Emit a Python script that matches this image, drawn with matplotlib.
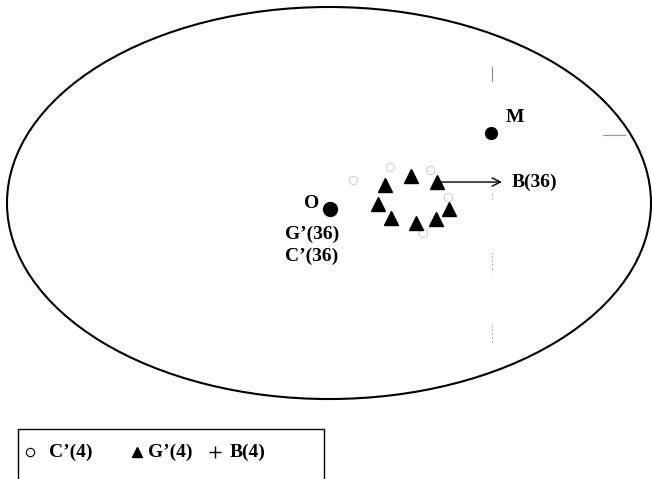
import numpy as np
import matplotlib
matplotlib.use("Agg")
import matplotlib.pyplot as plt
from matplotlib.patches import Ellipse, Rectangle

# positions on the sky map, in units of the map's half-width / half-height
origin = (0.003, -0.031)
m_point = (0.503, 0.357)
g4_x = [0.174, 0.255, 0.335, 0.152, 0.373, 0.193, 0.270, 0.332]
g4_y = [0.092, 0.138, 0.107, -0.005, -0.031, -0.077, -0.102, -0.082]
c4_x = [0.074, 0.189, 0.314, 0.369, 0.292]
c4_y = [0.117, 0.184, 0.168, 0.031, -0.153]
b36_start = (0.335, 0.107)
b36_end = (0.537, 0.107)

legend_labels = ["C\u2019(4)", "G\u2019(4)", "B(4)"]

plt.rcParams['font.family'] = ['Liberation Serif', 'DejaVu Serif']

fig = plt.figure(figsize=(6.52, 4.79), dpi=100)
ax = fig.add_axes([0, 0, 1, 1])
ax.set_xlim(-1.0217, 1.0031)
ax.set_ylim(-1.408, 1.0357)
ax.axis('off')

# map outline
ax.add_patch(Ellipse((0, 0), 2, 2, fill=False, lw=1.5, color='black'))

# faint grid remnants
ax.plot([0.506, 0.506], [0.622, 0.694], color='#888888', lw=0.8)
for y0, y1 in [(0.02, 0.05), (-0.25, -0.35), (-0.62, -0.72)]:
    ax.plot([0.506, 0.506], [y0, y1], color='#aaaaaa', lw=0.7, ls=(0, (2, 2)))
ax.plot([0.85, 0.92], [0.347, 0.347], color='#999999', lw=0.8)

# faint C'(4) circles
ax.plot(c4_x, c4_y, 'o', ms=6, mfc='none', mec='#cccccc', mew=0.7, ls='none')

# G'(4) triangles
ax.plot(g4_x, g4_y, '^', ms=9.5, color='black', ls='none')

# origin and M
ax.plot(*origin, 'o', ms=10, color='black')
ax.plot(*m_point, 'o', ms=8.5, color='black')

ax.annotate('', xy=b36_end, xytext=b36_start,
            arrowprops=dict(arrowstyle='->', lw=1.0, color='black',
                            mutation_scale=15, shrinkA=0, shrinkB=0))

tkw = dict(fontsize=14, fontweight='bold', color='black')
ax.text(b36_end[0] + 0.03, b36_end[1], 'B(36)', ha='left', va='center', **tkw)
ax.text(m_point[0] + 0.075, m_point[1] + 0.077, 'M', ha='center', va='center', **tkw)
ax.text(origin[0] - 0.056, origin[1] + 0.026, 'O', ha='center', va='center', **tkw)
ax.text(-0.053, -0.158, 'G\u2019(36)', ha='center', va='center', **tkw)
ax.text(-0.053, -0.270, 'C\u2019(36)', ha='center', va='center', **tkw)

# legend box, running off the bottom edge
ax.add_patch(Rectangle((-0.966, -1.45), 0.950, 0.297, fill=False,
                       lw=1.0, color='black', clip_on=False))
leg_y = -1.270
ax.plot(-0.928, leg_y, 'o', ms=6, mfc='none', mec='black', mew=0.8)
ax.text(-0.868, leg_y, legend_labels[0], ha='left', va='center', **tkw)
ax.plot(-0.596, leg_y, '^', ms=7, color='black')
ax.text(-0.562, leg_y, legend_labels[1], ha='left', va='center', **tkw)
ax.plot(-0.354, leg_y, '+', ms=8, color='black', mew=1.0)
ax.text(-0.310, leg_y, legend_labels[2], ha='left', va='center', **tkw)

fig.savefig('out.png', dpi=100)
